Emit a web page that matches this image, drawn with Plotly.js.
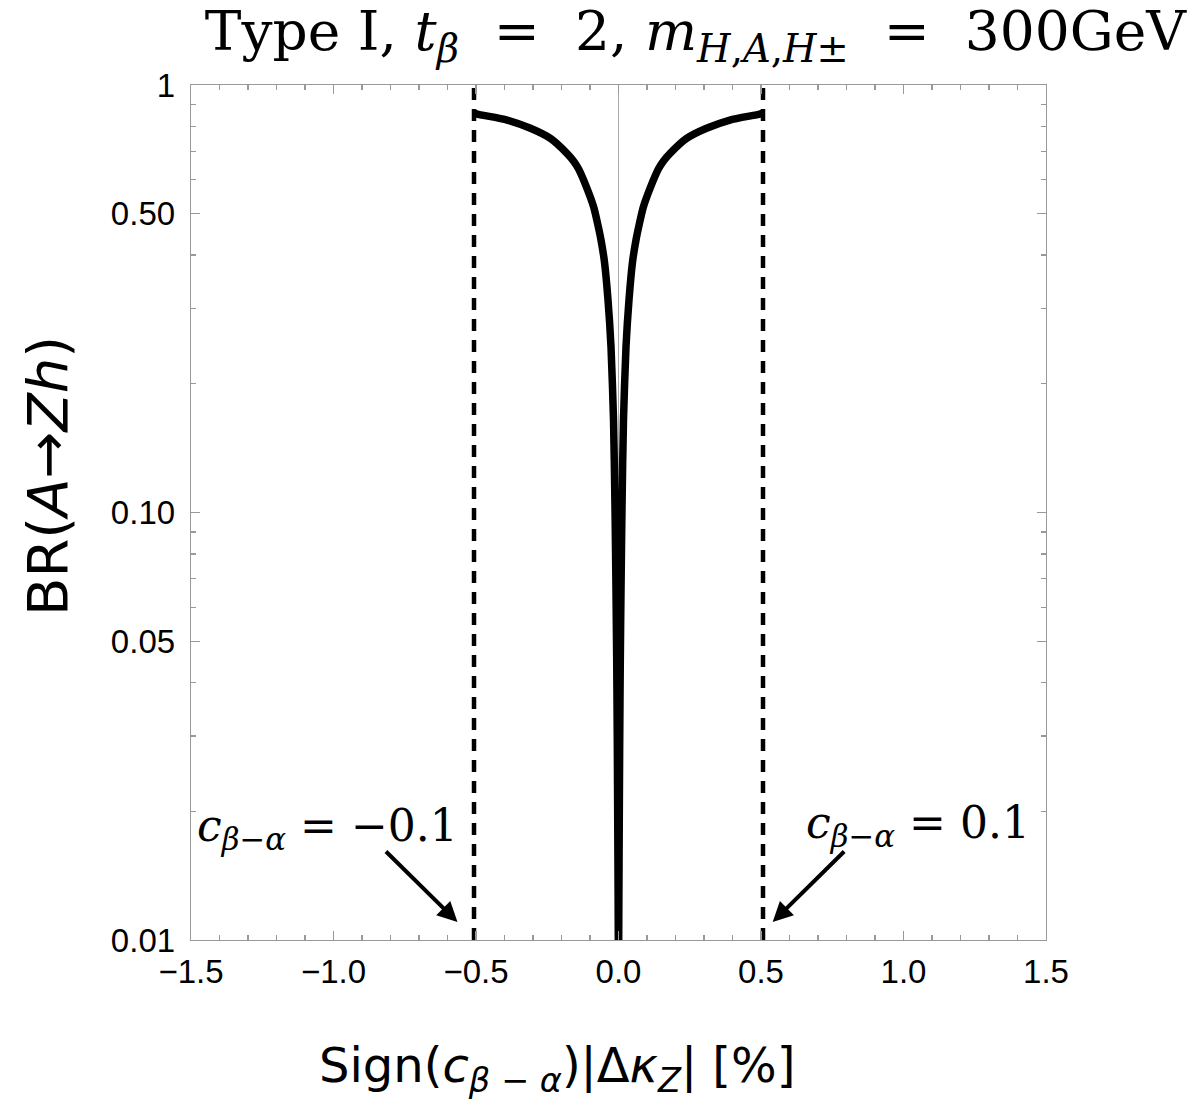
<!DOCTYPE html>
<html>
<head>
<meta charset="utf-8">
<script src="https://cdn.plot.ly/plotly-3.0.1.min.js"></script>
<style>html,body{margin:0;padding:0;background:#fff;}#chart{width:1199px;height:1111px;}</style>
</head>
<body>
<div id="chart"></div>
<script>
// Positive branch of the curve: Sign(c)|Δκ_Z| [%] and BR(A→Zh)
const kappaPos = [0.0003, 0.0007, 0.0021, 0.0042, 0.0063, 0.0088, 0.0123, 0.0175, 0.0263, 0.0368, 0.0491, 0.0614, 0.073, 0.087, 0.111, 0.14, 0.158, 0.181, 0.239, 0.309, 0.391, 0.496, 0.507];
const brPos    = [0.005, 0.01, 0.016, 0.029, 0.045, 0.066, 0.103, 0.165, 0.244, 0.314, 0.385, 0.434, 0.473, 0.518, 0.574, 0.636, 0.664, 0.692, 0.750, 0.792, 0.828, 0.855, 0.86];
// Vertical dashed boundaries (c_{β−α} = ∓0.1)
const boundaries = [-0.507, 0.507];
const boundaryLabels = ['<i>c</i><sub><i>β</i>−<i>α</i></sub> = −0.1', '<i>c</i><sub><i>β</i>−<i>α</i></sub> = 0.1'];
// Axis ticks
const xTickVals = [-1.5, -1.0, -0.5, 0.0, 0.5, 1.0, 1.5];
const xTickText = ['−1.5', '−1.0', '−0.5', '0.0', '0.5', '1.0', '1.5'];
const yTickVals = [0.01, 0.05, 0.1, 0.5, 1];
const yTickText = ['0.01', '0.05', '0.10', '0.50', '1'];
const yMinorVals = [0.02, 0.03, 0.04, 0.06, 0.07, 0.08, 0.09, 0.2, 0.3, 0.4, 0.6, 0.7, 0.8, 0.9];

const xs = kappaPos.slice().reverse().map(v => -v).concat(kappaPos);
const ys = brPos.slice().reverse().concat(brPos);

const traces = [
  {x: xs, y: ys, mode: 'lines', line: {color: '#000', width: 7.5, shape: 'spline', smoothing: 0.6}, hoverinfo: 'skip'}
];
boundaries.forEach(b => traces.push({
  x: [b, b], y: [0.01, 1], mode: 'lines',
  line: {color: '#000', width: 4.5, dash: '12px,9px'}, hoverinfo: 'skip'
}));

const axisCommon = {
  showgrid: false, showline: true, linecolor: '#999', linewidth: 1.3,
  mirror: 'allticks', ticks: 'inside', ticklen: 9, tickwidth: 1.3, tickcolor: '#999',
  tickfont: {family: 'Liberation Sans, Arial, sans-serif', size: 33, color: '#000'}
};

const serif = 'DejaVu Serif, serif';
const sp = '&nbsp;';

const layout = {
  width: 1199, height: 1111,
  paper_bgcolor: '#fff', plot_bgcolor: '#fff',
  showlegend: false,
  margin: {l: 191, r: 153, t: 85, b: 171},
  title: {
    text: 'Type I, <i>t</i><sub><i>β</i></sub>' + sp + ' = ' + sp + '2, <i>m</i><sub><i>H</i>,<i>A</i>,<i>H</i>±</sub>' + sp + ' = ' + sp + '300GeV',
    font: {family: serif, size: 55, color: '#000'},
    xref: 'container', x: 0.58, xanchor: 'center',
    yref: 'container', y: 0.972, yanchor: 'middle'
  },
  xaxis: Object.assign({}, axisCommon, {
    range: [-1.5, 1.5], tickmode: 'array', tickvals: xTickVals, ticktext: xTickText,
    zeroline: true, zerolinecolor: '#aaa', zerolinewidth: 1.5,
    ticklabelstandoff: 2,
    minor: {dtick: 0.1, tick0: 0, ticks: 'inside', ticklen: 5, tickwidth: 1.3, tickcolor: '#999'}
  }),
  yaxis: Object.assign({}, axisCommon, {
    type: 'log', range: [-2, 0], tickmode: 'array', tickvals: yTickVals, ticktext: yTickText,
    ticklabelstandoff: 8,
    minor: {tickmode: 'array', tickvals: yMinorVals, ticks: 'inside', ticklen: 5, tickwidth: 1.3, tickcolor: '#999'}
  }),
  annotations: [
    {xref: 'paper', yref: 'paper', x: (557 - 191) / 855, y: (940 - 1068) / 855, xanchor: 'center', yanchor: 'middle',
     text: 'Sign(<i>c</i><sub><i>β</i> − <i>α</i></sub>)|Δ<i>κ</i><sub><i>Z</i></sub>| [%]', showarrow: false,
     font: {family: 'DejaVu Sans, sans-serif', size: 48, color: '#000'}},
    {xref: 'paper', yref: 'paper', x: (47 - 191) / 855, y: (940 - 476) / 855, xanchor: 'center', yanchor: 'middle',
     text: 'BR(<i>A</i>→<i>Zh</i>)', textangle: -90, showarrow: false,
     font: {family: 'DejaVu Sans, sans-serif', size: 56, color: '#000'}},
    {x: -1.02, y: -1.738, xref: 'x', yref: 'y', text: boundaryLabels[0], showarrow: false,
     font: {family: serif, size: 44, color: '#000'}},
    {x: 1.05, y: -1.731, xref: 'x', yref: 'y', text: boundaryLabels[1], showarrow: false,
     font: {family: serif, size: 44, color: '#000'}},
    {x: -0.565, y: -1.958, xref: 'x', yref: 'y', text: '', showarrow: true,
     ax: -73, ay: -72, arrowhead: 2, arrowsize: 1, arrowwidth: 4, arrowcolor: '#000'},
    {x: 0.541, y: -1.958, xref: 'x', yref: 'y', text: '', showarrow: true,
     ax: 73, ay: -72, arrowhead: 2, arrowsize: 1, arrowwidth: 4, arrowcolor: '#000'}
  ]
};

Plotly.newPlot('chart', traces, layout, {staticPlot: true, displayModeBar: false});
</script>
</body>
</html>
